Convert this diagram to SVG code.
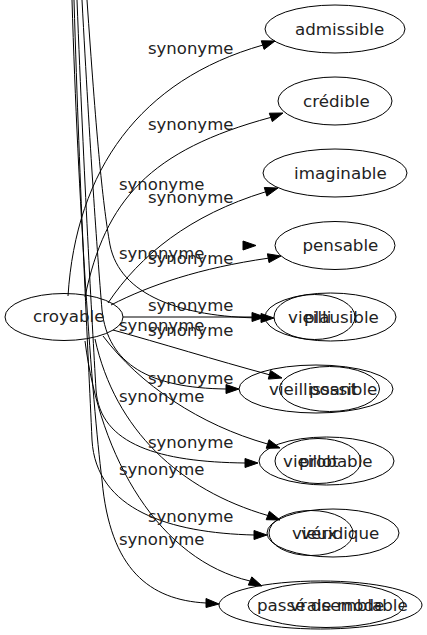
<svg xmlns="http://www.w3.org/2000/svg" width="427" height="635" viewBox="0 0 427 635">
<style>
.n ellipse{fill:none;stroke:#000;stroke-width:1}
.t{font-family:"DejaVu Sans",Verdana,sans-serif;font-size:16.7px;fill:#222}
.l{font-family:"DejaVu Sans",Verdana,sans-serif;font-size:16.5px;fill:#222}
#edges path{fill:none;stroke:#000;stroke-width:1}
#edges polygon{fill:#000;stroke:#000;stroke-width:1}
</style>
<rect width="427" height="635" fill="#fff"/>
<g id="edges">
<!-- croyable edges -->
<path d="M68,296 C76,170 140,80 262.7,45.1"/>
<polygon points="275,41 264.1,49.4 261.3,40.8"/>
<path d="M85,297 C105,200 150,150 270.8,117.4"/>
<polygon points="283,113 272.3,121.6 269.3,113.2"/>
<path d="M108,303 C140,255 190,215 265.6,191.8"/>
<polygon points="278,188 266.9,196.1 264.3,187.5"/>
<path d="M111,305 C150,285 200,268 268.2,258.2"/>
<polygon points="281,256 269,262.6 267.4,253.8"/>
<path d="M123,317 L252,317"/>
<polygon points="265,317 252,312.5 252,321.5"/>
<path d="M113,330 C160,343 215,360 269.4,374.75"/>
<polygon points="282,378 268.3,379.1 270.5,370.4"/>
<path d="M103,336 C140,385 200,425 267.6,444"/>
<polygon points="280,448 266.2,448.3 269,439.7"/>
<path d="M95,339 C115,430 180,490 267.8,515.5"/>
<polygon points="280,520 266.2,519.7 269.4,511.3"/>
<path d="M85,341 C100,460 160,560 250,581"/>
<polygon points="262,586 248.3,585.1 251.8,576.9"/>
<!-- edges from above -->
<polygon points="256,245.5 243,241 243,250"/>
<path d="M87,0 C96,130 102,200 110,245 C120,295 180,317 261,318"/>
<polygon points="274,318 261,313.5 261,322.5"/>
<path d="M82,0 C90,150 97,250 102,310 C108,365 150,388 226,389"/>
<polygon points="239,389 226,384.5 226,393.5"/>
<path d="M77,0 C84,180 92,320 96,390 C100,445 160,462 245,463"/>
<polygon points="258,463 245,458.5 245,467.5"/>
<path d="M74,0 C80,200 88,350 92,440 C96,510 170,533 254,535"/>
<polygon points="267,535 254,530.5 254,539.5"/>
<path d="M72,0 C78,200 92,400 102,480 C110,570 150,600 206,603"/>
<polygon points="219,604 206,598.5 206,607.5"/>
<!-- labels -->
<text class="l" x="148" y="54">synonyme</text>
<text class="l" x="148" y="130">synonyme</text>
<text class="l" x="119" y="190">synonyme</text>
<text class="l" x="148" y="203">synonyme</text>
<text class="l" x="119" y="259">synonyme</text>
<text class="l" x="148" y="264">synonyme</text>
<text class="l" x="148" y="310.5">synonyme</text>
<text class="l" x="119" y="330.5">synonyme</text>
<text class="l" x="148" y="335.5">synonyme</text>
<text class="l" x="148" y="384">synonyme</text>
<text class="l" x="119" y="402">synonyme</text>
<text class="l" x="148" y="448">synonyme</text>
<text class="l" x="119" y="475">synonyme</text>
<text class="l" x="148" y="521.5">synonyme</text>
<text class="l" x="119" y="545">synonyme</text>
</g>
<g id="croyable" class="n"><ellipse cx="64" cy="317" rx="59" ry="23.5"/><text class="t" x="33" y="322">croyable</text></g>
<g id="admissible" class="n"><ellipse cx="335" cy="29" rx="70" ry="24"/><text class="t" x="295" y="35">admissible</text></g>
<g id="credible" class="n"><ellipse cx="335" cy="101" rx="57" ry="24"/><text class="t" x="303" y="107">crédible</text></g>
<g id="imaginable" class="n"><ellipse cx="335" cy="173" rx="72" ry="24"/><text class="t" x="294" y="179">imaginable</text></g>
<g id="pensable" class="n"><ellipse cx="335" cy="245.5" rx="60" ry="24"/><text class="t" x="302.5" y="250.5">pensable</text></g>
<g id="plausible" class="n"><ellipse cx="330.5" cy="317" rx="65.5" ry="24"/><text class="t" x="304" y="322.5">plausible</text></g>
<g id="vieilli" class="n"><ellipse cx="314.5" cy="317" rx="40.5" ry="22.5"/><text class="t" x="288" y="322.5">vieilli</text></g>
<g id="vieillissant" class="n"><ellipse cx="316" cy="389" rx="77" ry="24"/><text class="t" x="269" y="394.5">vieillissant</text></g>
<g id="possible" class="n"><ellipse cx="329.5" cy="389" rx="50" ry="22.5"/><text class="t" x="309" y="394.5">possible</text></g>
<g id="probable" class="n"><ellipse cx="318" cy="461" rx="43" ry="22.5"/><text class="t" x="299" y="466.5">probable</text></g>
<g id="vieillot" class="n"><ellipse cx="326.5" cy="461" rx="67.5" ry="24"/><text class="t" x="283" y="466.5">vieillot</text></g>
<g id="veridique" class="n"><ellipse cx="333" cy="533" rx="66" ry="24"/><text class="t" x="301" y="538.5">véridique</text></g>
<g id="vieux" class="n"><ellipse cx="311" cy="533" rx="42" ry="22.5"/><text class="t" x="292" y="538.5">vieux</text></g>
<g id="vraisemblable" class="n"><ellipse cx="326" cy="605" rx="78" ry="22.5"/><text class="t" x="290" y="610.5">vraisemblable</text></g>
<g id="passe-de-mode" class="n"><ellipse cx="320.5" cy="605" rx="101.5" ry="24"/><text class="t" x="257" y="610.5">passé de mode</text></g>
</svg>
